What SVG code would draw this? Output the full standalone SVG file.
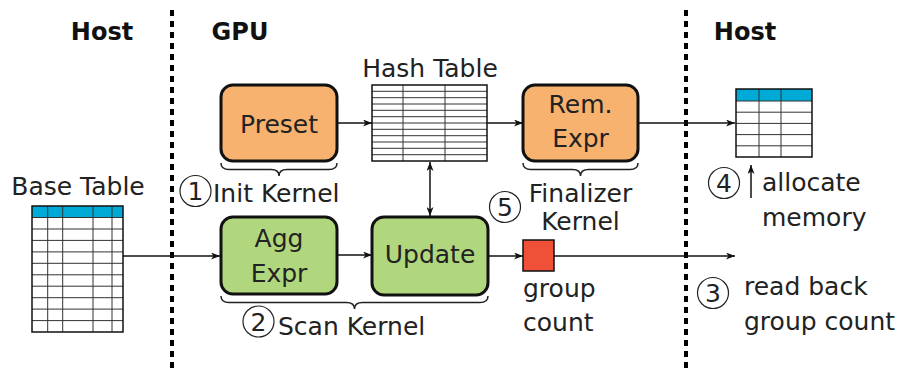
<svg xmlns="http://www.w3.org/2000/svg" width="897" height="369" viewBox="0 0 897 369">
<style>
text{font-family:"DejaVu Sans","Liberation Sans",sans-serif;font-size:25px;fill:#222}
.hdr{font-weight:bold;fill:#111;text-anchor:middle;font-size:24px}
.mid{text-anchor:middle}
.box{stroke:#111;stroke-width:3}
.orange{fill:#F6B26E}
.green{fill:#B1D77E}
.conn{stroke:#111;stroke-width:1.5;fill:none}
.brace{stroke:#222;stroke-width:1.5;fill:none}
.sep{stroke:#000;stroke-width:4;stroke-dasharray:6 5}
.grid{stroke:#333;stroke-width:1;fill:none}
.border{stroke:#111;stroke-width:1.5;fill:none}
.hdrrow{fill:#00AAD6}
.circ{stroke:#222;stroke-width:1.2;fill:none}
</style>
<defs>
<marker id="arr" markerUnits="userSpaceOnUse" markerWidth="9" markerHeight="7" refX="9" refY="3.5" orient="auto-start-reverse">
<path d="M0,0 L9,3.5 L0,7 L2.5,3.5 z" fill="#111"/>
</marker>
</defs>
<rect width="897" height="369" fill="#fff"/>

<g id="separators">
<line class="sep" x1="172" y1="10" x2="172" y2="369"/>
<line class="sep" x1="686" y1="10" x2="686" y2="369"/>
</g>

<g id="headers">
<text class="hdr" x="102" y="40">Host</text>
<text class="hdr" x="240" y="40">GPU</text>
<text class="hdr" x="745" y="40">Host</text>
</g>

<g id="connectors">
<line class="conn" x1="123" y1="256" x2="220" y2="256" marker-end="url(#arr)"/>
<line class="conn" x1="337" y1="255" x2="372" y2="255" marker-end="url(#arr)"/>
<line class="conn" x1="488" y1="256" x2="523" y2="256" marker-end="url(#arr)"/>
<line class="conn" x1="554" y1="256" x2="735" y2="256" marker-end="url(#arr)"/>
<line class="conn" x1="337" y1="123" x2="372" y2="123" marker-end="url(#arr)"/>
<line class="conn" x1="487" y1="123" x2="523" y2="123" marker-end="url(#arr)"/>
<line class="conn" x1="638" y1="123" x2="735" y2="123" marker-end="url(#arr)"/>
<line class="conn" x1="430" y1="162" x2="430" y2="216" marker-start="url(#arr)" marker-end="url(#arr)"/>
<line class="conn" x1="751" y1="198" x2="751" y2="165" marker-end="url(#arr)"/>
</g>

<g id="base-table">
<text class="mid" x="78" y="195">Base Table</text>
<rect class="hdrrow" x="32" y="206" width="91" height="11.5"/>
<path class="grid" d="M32,217.5H123 M32,229H123 M32,240.4H123 M32,251.9H123 M32,263.3H123 M32,274.8H123 M32,286.2H123 M32,297.7H123 M32,309.1H123 M32,320.6H123 M47.7,206V332 M62.7,206V332 M93,206V332 M112,206V332"/>
<rect class="border" x="32" y="206" width="91" height="126"/>
</g>

<g id="hash-table">
<text class="mid" x="430" y="77">Hash Table</text>
<path class="grid" d="M372,91.3H487 M372,97.7H487 M372,104H487 M372,110.3H487 M372,116.7H487 M372,123H487 M372,129.3H487 M372,135.7H487 M372,142H487 M372,148.3H487 M372,154.7H487 M403,85V161 M445,85V161"/>
<rect class="border" x="372" y="85" width="115" height="76"/>
</g>

<g id="preset">
<rect class="box orange" x="221" y="85" width="116" height="76" rx="12"/>
<text class="mid" x="279" y="133">Preset</text>
</g>

<g id="init-kernel">
<path class="brace" d="M221,163 Q221,169.5 229,169.5 L271,169.5 Q279,169.5 279,176 Q279,169.5 287,169.5 L329,169.5 Q337,169.5 337,163"/>
<circle class="circ" cx="195.5" cy="191" r="15.5"/>
<text class="mid" x="195.5" y="200">1</text>
<text x="213" y="202">Init Kernel</text>
</g>

<g id="rem-expr">
<rect class="box orange" x="523" y="85" width="115" height="76" rx="12"/>
<text class="mid" x="580.5" y="113">Rem.</text>
<text class="mid" x="580.5" y="147">Expr</text>
</g>

<g id="finalizer-kernel">
<path class="brace" d="M523,163 Q523,169.5 531,169.5 L572.5,169.5 Q580.5,169.5 580.5,176 Q580.5,169.5 588.5,169.5 L630,169.5 Q638,169.5 638,163"/>
<circle class="circ" cx="505" cy="207" r="15.5"/>
<text class="mid" x="505" y="216">5</text>
<text class="mid" x="580.5" y="202">Finalizer</text>
<text class="mid" x="580.5" y="230">Kernel</text>
</g>

<g id="agg-expr">
<rect class="box green" x="221" y="217" width="116" height="77" rx="12"/>
<text class="mid" x="279" y="247">Agg</text>
<text class="mid" x="279" y="282">Expr</text>
</g>

<g id="update">
<rect class="box green" x="372" y="217" width="116" height="78" rx="12"/>
<text class="mid" x="430" y="263">Update</text>
</g>

<g id="scan-kernel">
<path class="brace" d="M221,296 Q221,302.5 229,302.5 L346.5,302.5 Q354.5,302.5 354.5,309 Q354.5,302.5 362.5,302.5 L480,302.5 Q488,302.5 488,296"/>
<circle class="circ" cx="258.5" cy="321.5" r="15.5"/>
<text class="mid" x="258.5" y="330.5">2</text>
<text x="278" y="335">Scan Kernel</text>
</g>

<g id="group-count">
<rect x="523" y="240" width="31" height="31" fill="#EE5137" stroke="#111" stroke-width="1.5"/>
<text x="523" y="297">group</text>
<text x="523" y="331">count</text>
</g>

<g id="result-table">
<rect class="hdrrow" x="736" y="89" width="76" height="12"/>
<path class="grid" d="M736,101H812 M736,112.2H812 M736,123.4H812 M736,134.6H812 M736,145.8H812 M759,89V157 M781,89V157"/>
<rect class="border" x="736" y="89" width="76" height="68"/>
</g>

<g id="allocate">
<circle class="circ" cx="724" cy="183" r="15.5"/>
<text class="mid" x="724" y="192">4</text>
<text x="762" y="191">allocate</text>
<text x="762" y="226">memory</text>
</g>

<g id="read-back">
<circle class="circ" cx="713" cy="293" r="15.5"/>
<text class="mid" x="713" y="302">3</text>
<text x="744" y="295">read back</text>
<text x="744" y="330">group count</text>
</g>
</svg>
